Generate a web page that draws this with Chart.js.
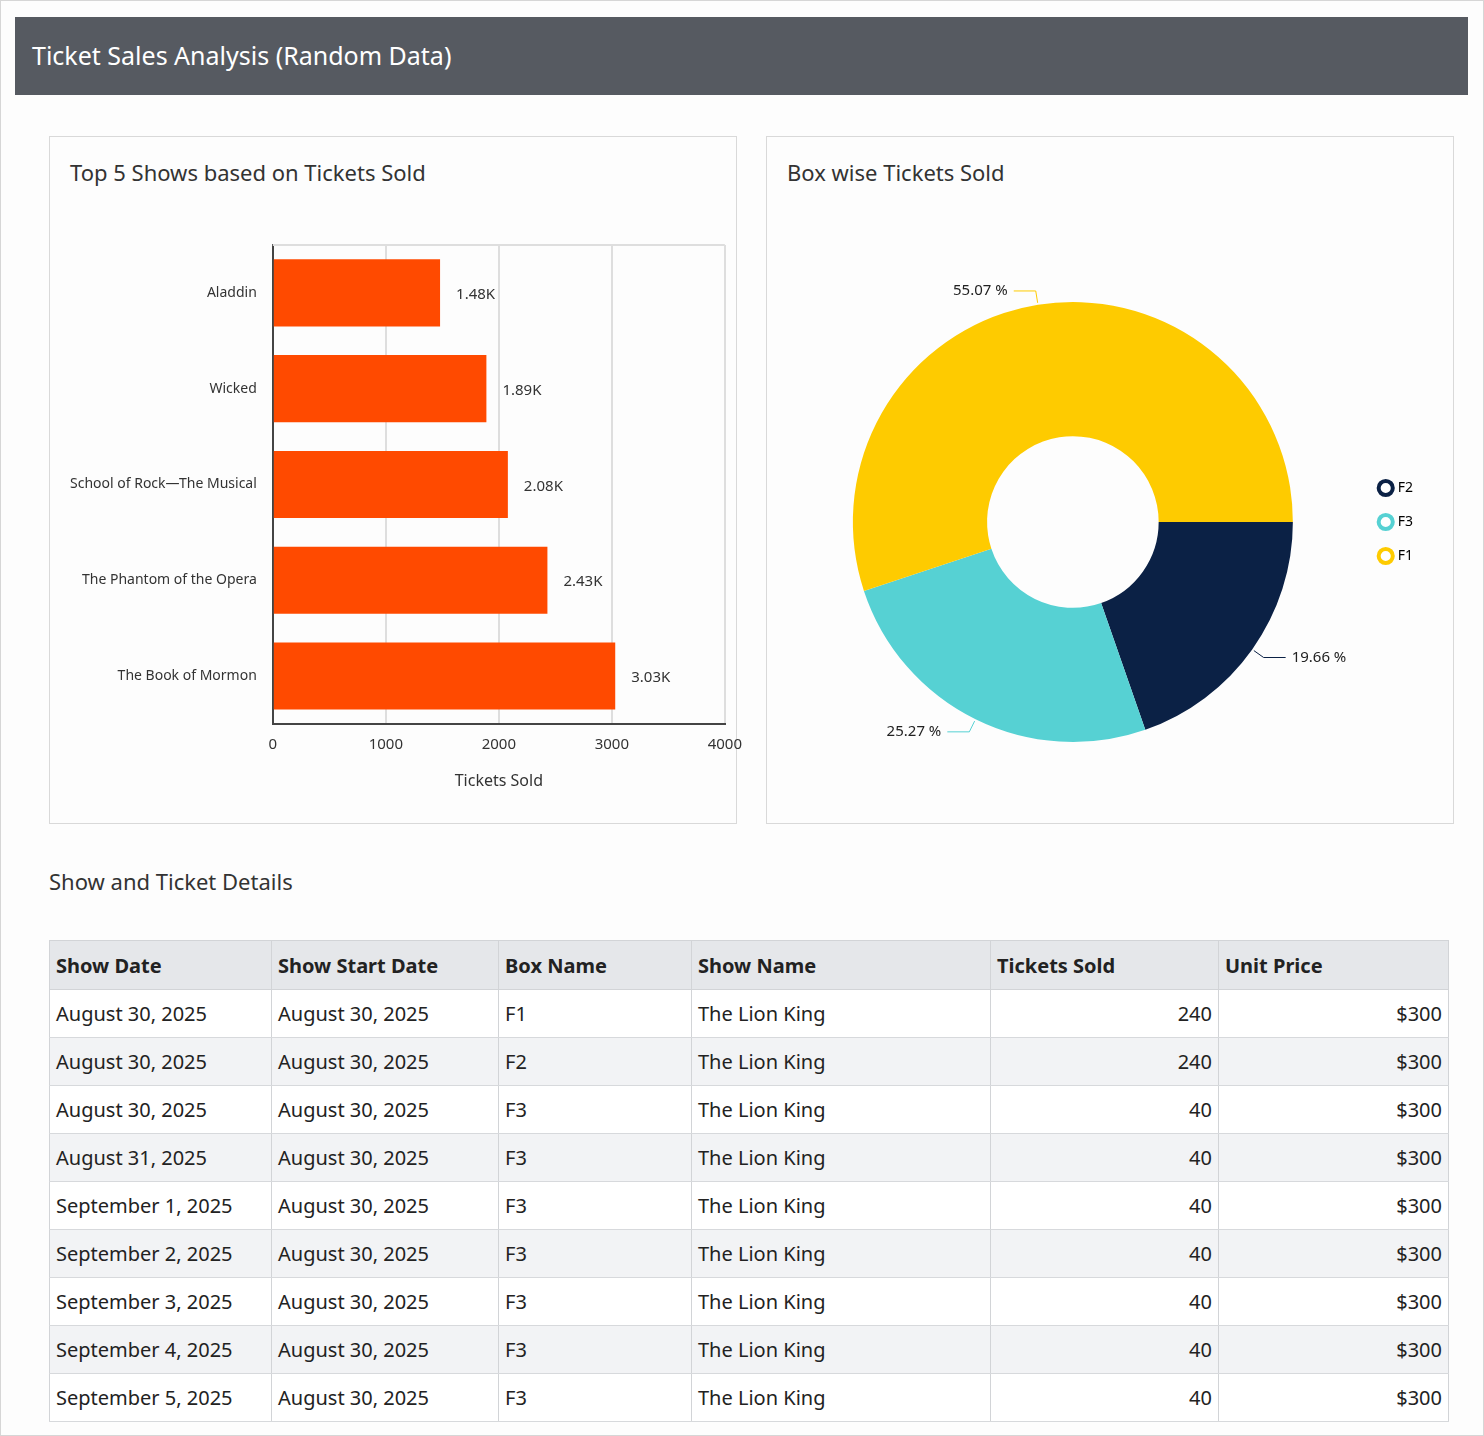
<!DOCTYPE html>
<html>
<head>
<meta charset="utf-8">
<script src="https://cdn.jsdelivr.net/npm/chart.js@4"></script>
<style>
  body { margin: 0; width: 1484px; height: 1436px; background: #fff; font-family: "Noto Sans", "Open Sans", sans-serif; color: #222; overflow: hidden; }
  .frame { position: absolute; left: 0; top: 0; width: 1482px; height: 1434px; border: 1px solid #d6d6d6; background: #fdfdfd; }
  .header { position: absolute; left: 15px; top: 17px; width: 1453px; height: 78px; background: #565a61; color: #fff; font-size: 25px; line-height: 76px; padding-left: 17px; box-sizing: border-box; }
  .panel { position: absolute; top: 136px; width: 688px; height: 688px; border: 1px solid #d9d9d9; box-sizing: border-box; background: #fdfdfd; }
  .panel h2 { position: absolute; left: 20px; top: 20px; margin: 0; font-weight: normal; font-size: 22px; color: #333; }
  .box { position: absolute; }
  .sect { position: absolute; left: 49px; top: 866px; font-size: 22px; color: #333; }
  table { position: absolute; left: 49px; top: 940px; border-collapse: collapse; font-size: 20px; }
  th { background: #e5e7ea; text-align: left; font-weight: bold; height: 48px; padding: 0 6px; border: 1px solid #d2d4d7; }
  td { height: 47px; padding: 0 6px; border-left: 1px solid #d2d4d7; border-right: 1px solid #d2d4d7; border-bottom: 1px solid #d7d9dc; background: #fff; }
  tr:nth-child(odd) td { background: #f2f3f5; }
  td.num { text-align: right; }
</style>
</head>
<body>
<div class="frame"></div>
<div class="header">Ticket Sales Analysis (Random Data)</div>
<div class="panel" style="left:49px"><h2>Top 5 Shows based on Tickets Sold</h2>
  <div class="box" style="left:12px;top:90px;width:692px;height:568px"><canvas id="bar"></canvas></div></div>
<div class="panel" style="left:766px"><h2>Box wise Tickets Sold</h2>
  <div class="box" style="left:2px;top:110px;width:684px;height:550px"><canvas id="pie"></canvas></div></div>
<div class="sect">Show and Ticket Details</div>
<table id="tbl"></table>
<script>
// bar chart data
const shows = ["Aladdin", "Wicked", "School of Rock\u2014The Musical", "The Phantom of the Opera", "The Book of Mormon"];
const ticketsSold = [1480, 1890, 2080, 2430, 3030];
const xTicks = [0, 1000, 2000, 3000, 4000];

// doughnut data
const boxes = ["F2", "F3", "F1"];
const boxShare = [19.66, 25.27, 55.07];
const boxColors = ["#0b2145", "#56d1d3", "#fecb00"];

// table data
const columns = ["Show Date", "Show Start Date", "Box Name", "Show Name", "Tickets Sold", "Unit Price"];
const colWidths = [222, 227, 193, 299, 228, 230];
const showDates = ["August 30, 2025", "August 30, 2025", "August 30, 2025", "August 31, 2025", "September 1, 2025",
  "September 2, 2025", "September 3, 2025", "September 4, 2025", "September 5, 2025"];
const startDates = Array(9).fill("August 30, 2025");
const boxNames = ["F1", "F2", "F3", "F3", "F3", "F3", "F3", "F3", "F3"];
const showNames = Array(9).fill("The Lion King");
const rowTickets = [240, 240, 40, 40, 40, 40, 40, 40, 40];
const unitPrices = Array(9).fill("$300");

const FONT = "'Noto Sans', 'Open Sans', sans-serif";
Chart.defaults.font.family = FONT;
Chart.defaults.color = "#333";

const barLabels = {
  id: "barLabels",
  afterDatasetsDraw(chart) {
    const ctx = chart.ctx;
    const a = chart.chartArea;
    ctx.save();
    ctx.strokeStyle = "#dedede";
    ctx.lineWidth = 2;
    ctx.beginPath(); ctx.moveTo(a.left, a.top); ctx.lineTo(a.right, a.top); ctx.stroke();
    ctx.font = "15px " + FONT;
    ctx.fillStyle = "#333";
    ctx.textBaseline = "middle";
    chart.getDatasetMeta(0).data.forEach((bar, i) => {
      ctx.fillText((ticketsSold[i] / 1000).toFixed(2) + "K", bar.x + 16, bar.y + 2);
    });
    ctx.restore();
  },
};

new Chart(document.getElementById("bar"), {
  type: "bar",
  data: { labels: shows, datasets: [{ data: ticketsSold, backgroundColor: "#ff4a00", categoryPercentage: 0.7, barPercentage: 1 }] },
  options: {
    indexAxis: "y", responsive: true, maintainAspectRatio: false, animation: false,
    layout: { padding: { right: 0, top: 18 } },
    plugins: { legend: { display: false }, tooltip: { enabled: false } },
    scales: {
      x: {
        min: 0, max: 4000,
        afterBuildTicks: (s) => { s.ticks = xTicks.map((v) => ({ value: v })); },
        grid: { color: "#dedede", lineWidth: 2, drawTicks: false },
        border: { color: "#444", width: 2 },
        ticks: { font: { size: 15 }, padding: 12, color: "#333", callback: (v) => String(v) },
        title: { display: true, text: "Tickets Sold", font: { size: 16 }, color: "#333", padding: { top: 6 } },
      },
      y: {
        grid: { display: false },
        border: { color: "#444", width: 2 },
        ticks: { font: { size: 14 }, color: "#333", padding: 8 },
      },
    },
  },
  plugins: [barLabels],
});

const pieLabels = {
  id: "pieLabels",
  afterDatasetsDraw(chart) {
    const ctx = chart.ctx;
    ctx.save();
    ctx.font = "15px " + FONT;
    ctx.fillStyle = "#222";
    ctx.textBaseline = "middle";
    chart.getDatasetMeta(0).data.forEach((arc, i) => {
      const p = arc.getProps(["x", "y", "startAngle", "endAngle", "outerRadius"], true);
      const a = (p.startAngle + p.endAngle) / 2;
      const r0 = p.outerRadius + 2, r1 = p.outerRadius + 14;
      const x0 = p.x + Math.cos(a) * r0, y0 = p.y + Math.sin(a) * r0;
      const x1 = p.x + Math.cos(a) * r1, y1 = p.y + Math.sin(a) * r1;
      const right = Math.cos(a) >= 0;
      const x2 = x1 + (right ? 22 : -22);
      ctx.strokeStyle = boxColors[i];
      ctx.lineWidth = 1;
      ctx.beginPath(); ctx.moveTo(x0, y0); ctx.lineTo(x1, y1); ctx.lineTo(x2, y1); ctx.stroke();
      ctx.textAlign = right ? "left" : "right";
      ctx.fillText(boxShare[i].toFixed(2) + " %", x2 + (right ? 6 : -6), y1);
    });
    ctx.restore();
  },
};

new Chart(document.getElementById("pie"), {
  type: "doughnut",
  data: { labels: boxes, datasets: [{ data: boxShare, backgroundColor: boxColors, borderWidth: 0 }] },
  options: {
    responsive: true, maintainAspectRatio: false, animation: false,
    rotation: 90, cutout: "39%",
    layout: { padding: { top: 55, bottom: 55, left: 16, right: 30 } },
    plugins: {
      tooltip: { enabled: false },
      legend: {
        position: "right",
        labels: {
          usePointStyle: true, pointStyle: "circle", boxWidth: 10, boxHeight: 10, padding: 20,
          font: { size: 14 }, color: "#222",
          generateLabels: () => boxes.map((b, i) => ({
            text: b, fillStyle: "#fff", strokeStyle: boxColors[i], lineWidth: 4, pointStyle: "circle", index: i,
          })),
        },
      },
    },
  },
  plugins: [pieLabels],
});

// table
const tbl = document.getElementById("tbl");
let html = "<tr>" + columns.map((c, i) => `<th style="width:${colWidths[i] - 13}px">${c}</th>`).join("") + "</tr>";
showDates.forEach((d, i) => {
  html += `<tr><td>${d}</td><td>${startDates[i]}</td><td>${boxNames[i]}</td><td>${showNames[i]}</td>` +
    `<td class="num">${rowTickets[i]}</td><td class="num">${unitPrices[i]}</td></tr>`;
});
tbl.innerHTML = html;
</script>
</body>
</html>
